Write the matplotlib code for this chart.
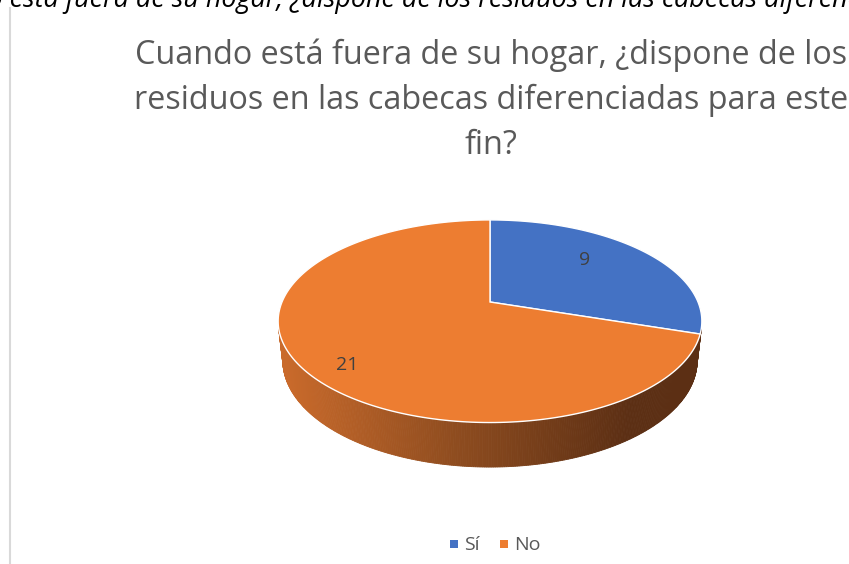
import numpy as np
import matplotlib.pyplot as plt
from matplotlib.patches import Polygon, Rectangle
from matplotlib.colors import to_rgb

# data
categories = ['Sí', 'No']
values = [9, 21]
colors = ['#4472C4', '#ED7D31']
title = 'Cuando está fuera de su hogar, ¿dispone de los\nresiduos en las cabecas diferenciadas para este\nfin?'
caption = 'Cuando está fuera de su hogar, ¿dispone de los residuos en las cabecas diferenciadas para este fin?'

W, H = 849, 564
fig = plt.figure(figsize=(W / 100, H / 100), dpi=100)
ax = fig.add_axes([0, 0, 1, 1])
ax.set_xlim(0, W)
ax.set_ylim(H, 0)
ax.axis('off')

# perspective projection of the tilted disc
cx, cy = 490, 302
alpha = np.radians(28)
D = 4.65
S = 208 * D
h = 0.216

def proj(th, z=0.0, r=1.0):
    x = r * np.cos(th)
    y = r * np.sin(th)
    depth = D + y * np.cos(alpha) - z * np.sin(alpha)
    px = cx + S * x / depth
    py = cy - S * (y * np.sin(alpha) + z * np.cos(alpha)) / depth
    return px, py

# side wall (visible part only), shaded light -> dark from left to right
smin = np.arcsin(-1 / (D * np.cos(alpha)))
th_side = np.linspace(-np.pi - smin, smin, 300)
light = np.array(to_rgb('#C96A2B'))
mid = np.array(to_rgb('#8E4C1F'))
dark = np.array(to_rgb('#5C2F14'))
for a, b in zip(th_side[:-1], th_side[1:]):
    x0, y0 = proj(a)
    x1, y1 = proj(b)
    x2, y2 = proj(b, -h)
    x3, y3 = proj(a, -h)
    t = np.clip(((x0 + x1) / 2 - 285) / (630 - 285), 0, 1)
    if t < 0.5:
        c = light + (mid - light) * t * 2
    else:
        c = mid + (dark - mid) * (t - 0.5) * 2
    ax.add_patch(Polygon([(x0, y0), (x1, y1), (x2, y2), (x3, y3)], closed=True,
                         facecolor=c, edgecolor=c, lw=0.6))

# top face: start at 12 o'clock, clockwise
start = 90.0
total = sum(values)
for v, col in zip(values, colors):
    sweep = 360.0 * v / total
    th = np.radians(np.linspace(start, start - sweep, 200))
    px, py = proj(th)
    pts = [(cx, cy)] + list(zip(px, py))
    ax.add_patch(Polygon(pts, closed=True, facecolor=col, edgecolor='white', lw=1.0))
    start -= sweep

# value labels
label_pos = [(585, 260), (347, 365)]
for v, (lx, ly) in zip(values, label_pos):
    ax.text(lx, ly, str(v), ha='center', va='center', fontsize=14, color='#404040',
            family=['Open Sans', 'DejaVu Sans'])

# title
ax.text(491, 100, title, ha='center', va='center', fontsize=23.3, color='#595959',
        linespacing=1.48, family=['Open Sans', 'DejaVu Sans'])

# legend
lx = 454
for cat, col in zip(categories, colors):
    ax.add_patch(Rectangle((lx - 4, 540), 8, 8, facecolor=col, edgecolor='none'))
    ax.text(lx + 10, 545, cat, ha='left', va='center', fontsize=14, color='#595959',
            family=['Open Sans', 'DejaVu Sans'])
    lx += 50

# cropped caption at the top and left frame line
ax.text(-90, 6.5, caption, ha='left', va='baseline', fontsize=19.4, style='italic',
        color='black', family=['Open Sans', 'DejaVu Sans'], clip_on=True)
ax.plot([10, 10], [8, H], color='#d9d9d9', lw=1.5)

fig.savefig('out.png', dpi=100, facecolor='white')
